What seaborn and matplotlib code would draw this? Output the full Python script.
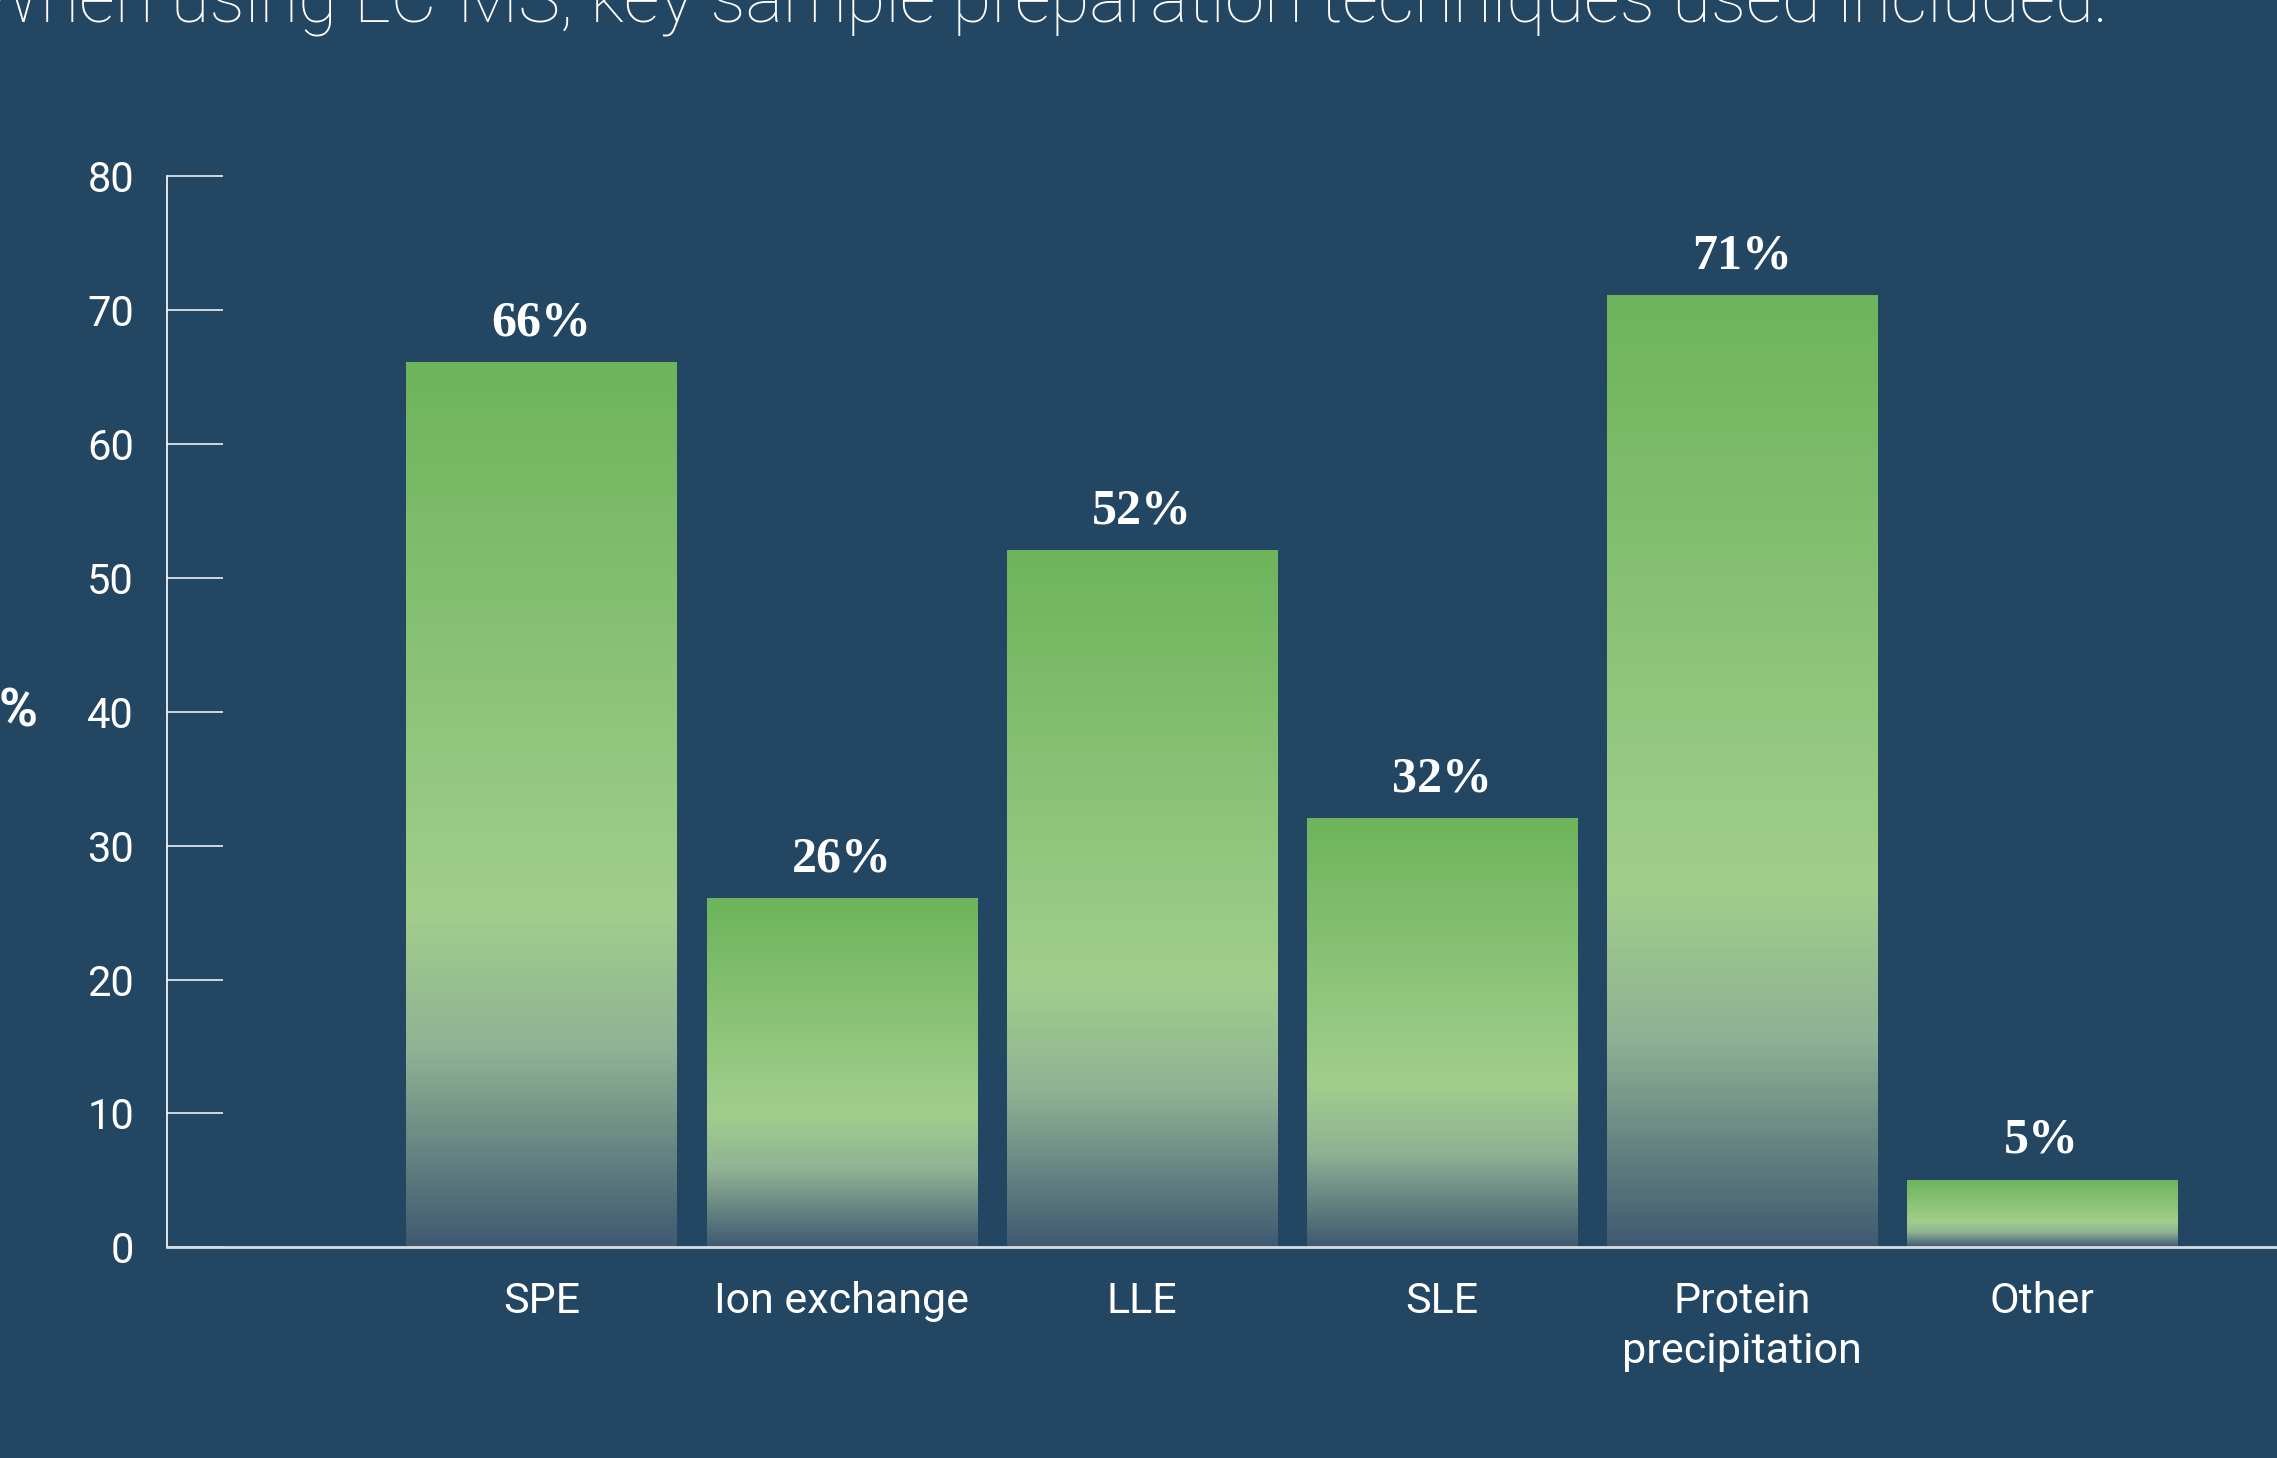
import matplotlib

matplotlib.use("Agg")
import matplotlib.pyplot as plt
import numpy as np
import seaborn as sns
from matplotlib.colors import LinearSegmentedColormap

categories = ["SPE", "Ion exchange", "LLE", "SLE", "Protein\nprecipitation", "Other"]
values = [66, 26, 52, 32, 71, 5]
y_ticks = [0, 10, 20, 30, 40, 50, 60, 70, 80]
title = "When using LC-MS, key sample preparation techniques used included:"

BG = "#234662"
grad = LinearSegmentedColormap.from_list(
    "bar_grad", [(0.0, "#6db45c"), (0.62, "#a2ce8c"), (0.78, "#8fb294"), (1.0, "#3f5a71")]
)

sns.set_theme(style="white")
plt.rcParams["font.family"] = ["Roboto", "DejaVu Sans"]

fig = plt.figure(figsize=(22.77, 14.58), dpi=100, facecolor=BG)
ax = fig.add_axes([0.0735, 0.1444, 0.9265, 0.7351])
ax.set_facecolor(BG)

sns.barplot(x=categories, y=values, width=0.9, color="#6db45c", ax=ax)

# replace each flat bar with a vertical gradient
g = np.linspace(0, 1, 256).reshape(-1, 1)
for patch in ax.patches:
    x0, w, h = patch.get_x(), patch.get_width(), patch.get_height()
    patch.set_visible(False)
    ax.imshow(g, cmap=grad, aspect="auto", extent=[x0, x0 + w, 0, h], origin="upper", zorder=2)
    ax.annotate(f"{h:.0f}%", (x0 + w / 2, h), xytext=(0, 12), textcoords="offset points",
                ha="center", va="bottom", color="white", fontsize=36, fontweight="bold",
                family=["Liberation Serif", "DejaVu Serif"])

ax.set_xlim(-1.247, 5.784)
ax.set_ylim(0, 80)
ax.set_yticks(y_ticks)
ax.set_yticklabels([str(t) for t in y_ticks])

for s in ["top", "right"]:
    ax.spines[s].set_visible(False)
ax.spines["left"].set_color("white")
ax.spines["left"].set_linewidth(1.2)
ax.spines["bottom"].set_color("#d5dde3")
ax.spines["bottom"].set_linewidth(2)
ax.spines["bottom"].set_zorder(3)

ax.tick_params(axis="y", left=True, direction="in", length=40, width=1.1, color="white", pad=24,
               labelsize=30, labelcolor="white")
ax.tick_params(axis="x", bottom=True, length=0, pad=24, labelsize=31, labelcolor="white")
for lab in ax.get_xticklabels() + ax.get_yticklabels():
    lab.set_fontweight("normal")
    lab.set_linespacing(1.3)

ax.set_xlabel("")
ax.set_ylabel("%", rotation=0, fontsize=38, fontweight="bold", color="white", ha="center", va="center")
ax.yaxis.set_label_coords(-0.071, 0.5)

fig.text(0.925, 0.985, title, ha="right", va="baseline", color="white", fontsize=51, fontweight="light")

fig.savefig("out.png", dpi=100, facecolor=BG)
